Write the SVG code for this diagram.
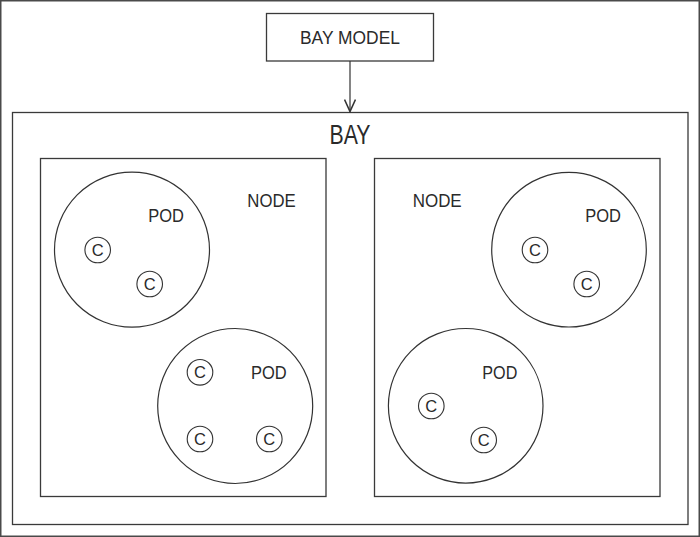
<svg xmlns="http://www.w3.org/2000/svg" width="700" height="537" viewBox="0 0 700 537">
<style>
.box{fill:#fff;stroke:#3a3a3a;stroke-width:1.3}
.pod{fill:none;stroke:#333;stroke-width:1.2}
.cc{fill:none;stroke:#333;stroke-width:1.1}
text{font-family:"Liberation Sans",Arial,sans-serif;fill:#2a2a2a}
.lbl{font-size:18.5px}
.c{font-size:16.5px;text-anchor:middle}
.conn{stroke:#333;stroke-width:1.2;fill:none}
</style>
<defs>
<marker id="arr" viewBox="0 0 14 12" refX="13" refY="6" markerWidth="14" markerHeight="12" markerUnits="userSpaceOnUse" orient="auto">
<path d="M1,0.5 L13,6 L1,11.5" fill="none" stroke="#333" stroke-width="1.6"/>
</marker>
</defs>
<rect x="0" y="0" width="700" height="537" fill="#fff"/>
<rect x="0.75" y="0.75" width="698.5" height="535.5" fill="none" stroke="#4a4a4a" stroke-width="1.5"/>
<g id="bay-model">
<rect class="box" x="266.5" y="13.5" width="167" height="47.5"/>
<text class="lbl" x="300" y="44" textLength="100" lengthAdjust="spacingAndGlyphs">BAY MODEL</text>
</g>
<g id="bay">
<rect class="box" x="12.5" y="112.5" width="675.5" height="412"/>
<text x="329.5" y="144" font-size="27.5" textLength="41" lengthAdjust="spacingAndGlyphs">BAY</text>
</g>
<g id="node-left">
<rect class="box" x="40.5" y="158.5" width="285.5" height="338"/>
<text class="lbl" x="247.3" y="206.7" textLength="48.4" lengthAdjust="spacingAndGlyphs">NODE</text>
</g>
<g id="pod-left-top">
<circle class="pod" cx="132" cy="249.7" r="77.5"/>
<text class="lbl" x="148.3" y="222.3" textLength="35.7" lengthAdjust="spacingAndGlyphs">POD</text>
<circle class="cc" cx="97.7" cy="250" r="12.8"/><text class="c" x="97.7" y="256">C</text>
<circle class="cc" cx="149.7" cy="284" r="12.8"/><text class="c" x="149.7" y="290">C</text>
</g>
<g id="pod-left-bottom">
<circle class="pod" cx="235.2" cy="406" r="77.5"/>
<text class="lbl" x="251" y="379" textLength="35.7" lengthAdjust="spacingAndGlyphs">POD</text>
<circle class="cc" cx="200" cy="372.3" r="12.8"/><text class="c" x="200" y="378.3">C</text>
<circle class="cc" cx="200" cy="439" r="12.8"/><text class="c" x="200" y="445">C</text>
<circle class="cc" cx="269.3" cy="439" r="12.8"/><text class="c" x="269.3" y="445">C</text>
</g>
<g id="node-right">
<rect class="box" x="374.5" y="158.5" width="285.5" height="338"/>
<text class="lbl" x="412.7" y="206.7" textLength="49" lengthAdjust="spacingAndGlyphs">NODE</text>
</g>
<g id="pod-right-top">
<circle class="pod" cx="569" cy="249.7" r="77.3"/>
<text class="lbl" x="585.3" y="222.3" textLength="35.7" lengthAdjust="spacingAndGlyphs">POD</text>
<circle class="cc" cx="535" cy="250" r="12.8"/><text class="c" x="535" y="256">C</text>
<circle class="cc" cx="586.7" cy="284" r="12.8"/><text class="c" x="586.7" y="290">C</text>
</g>
<g id="pod-right-bottom">
<circle class="pod" cx="465.7" cy="405.8" r="77.3"/>
<text class="lbl" x="482.3" y="379" textLength="35" lengthAdjust="spacingAndGlyphs">POD</text>
<circle class="cc" cx="431.3" cy="406" r="12.8"/><text class="c" x="431.3" y="412">C</text>
<circle class="cc" cx="483.7" cy="440" r="12.8"/><text class="c" x="483.7" y="446">C</text>
</g>
<g id="connectors">
<line class="conn" x1="350" y1="61" x2="350" y2="111.5" marker-end="url(#arr)"/>
</g>
</svg>
